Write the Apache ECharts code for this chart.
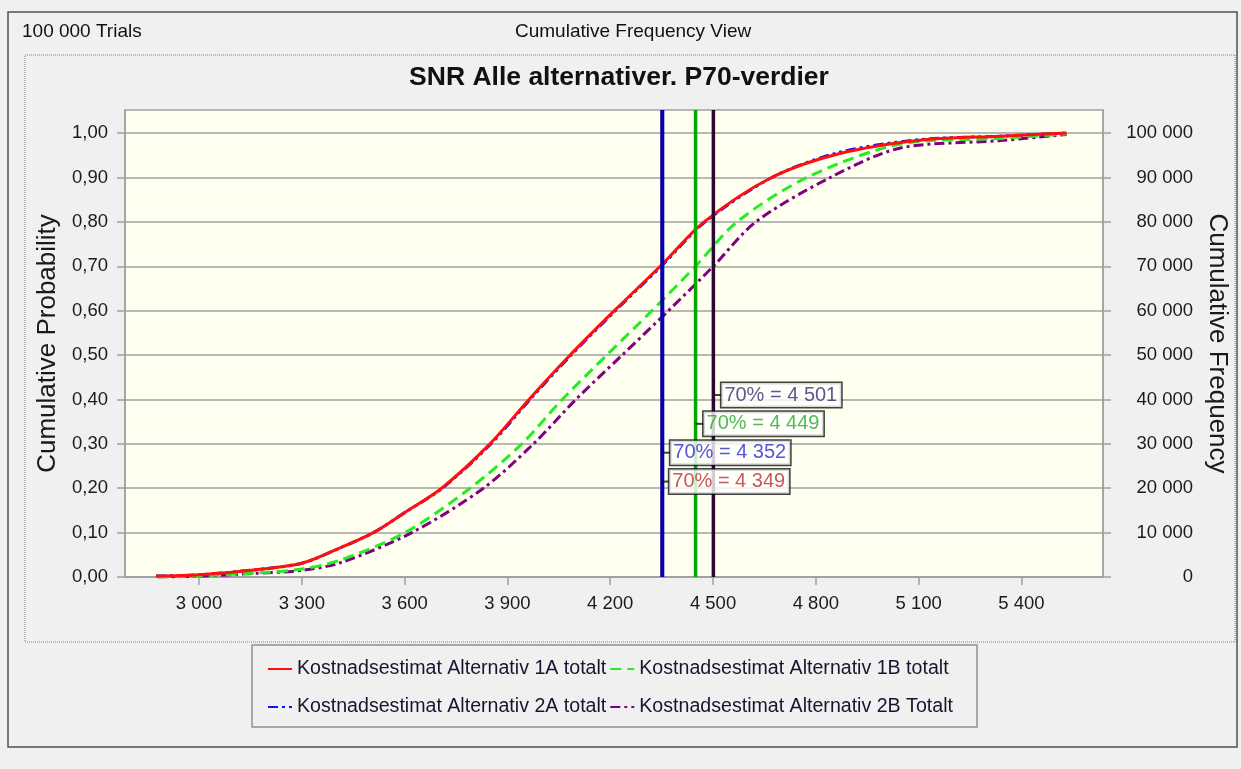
<!DOCTYPE html>
<html>
<head>
<meta charset="utf-8">
<script src="https://cdn.jsdelivr.net/npm/echarts@6/dist/echarts.min.js"></script>
<style>
  html, body { margin: 0; padding: 0; background: #f0f0f0; }
  #chart { width: 1241px; height: 769px; }
</style>
</head>
<body>
<div id="chart"></div>
<script>
// tick labels
const xTicks = [3000, 3300, 3600, 3900, 4200, 4500, 4800, 5100, 5400];
const probTicks = [0, 0.1, 0.2, 0.3, 0.4, 0.5, 0.6, 0.7, 0.8, 0.9, 1.0];
const freqTicks = [0, 10000, 20000, 30000, 40000, 50000, 60000, 70000, 80000, 90000, 100000];

// series names
const names = [
  'Kostnadsestimat Alternativ 1A totalt',
  'Kostnadsestimat Alternativ 1B totalt',
  'Kostnadsestimat Alternativ 2A totalt',
  'Kostnadsestimat Alternativ 2B Totalt'
];

// cumulative curves: cost value -> cumulative probability
const x1A = [2875, 3000, 3160, 3300, 3410, 3509, 3600, 3708, 3849, 3963, 4083, 4212, 4346, 4474, 4671, 4870, 5104, 5338, 5532];
const p1A = [0.002, 0.005, 0.016, 0.031, 0.065, 0.10, 0.145, 0.20, 0.30, 0.40, 0.50, 0.60, 0.70, 0.80, 0.90, 0.954, 0.984, 0.993, 1.0];

const x2A = [2875, 3000, 3160, 3300, 3410, 3509, 3600, 3710, 3852, 3966, 4086, 4215, 4349, 4477, 4672, 4866, 5100, 5338, 5532];
const p2A = [0.002, 0.005, 0.016, 0.031, 0.065, 0.10, 0.145, 0.20, 0.30, 0.40, 0.50, 0.60, 0.70, 0.80, 0.90, 0.956, 0.985, 0.993, 1.0];

const x1B = [2880, 3000, 3160, 3300, 3412, 3601, 3791, 3942, 4060, 4190, 4322, 4449, 4570, 4774, 5045, 5338, 5532];
const p1B = [0.0, 0.003, 0.009, 0.018, 0.038, 0.10, 0.20, 0.30, 0.40, 0.50, 0.60, 0.70, 0.80, 0.90, 0.975, 0.988, 0.998];

const x2B = [2880, 3000, 3160, 3300, 3412, 3621, 3830, 3976, 4100, 4235, 4370, 4501, 4625, 4842, 5045, 5338, 5532];
const p2B = [0.0, 0.002, 0.008, 0.015, 0.032, 0.10, 0.20, 0.30, 0.40, 0.50, 0.60, 0.70, 0.80, 0.90, 0.966, 0.983, 0.997];

// P70 markers
const p70Names = ['1A', '2A', '1B', '2B'];
const p70Values = [4349, 4352, 4449, 4501];
const p70LabelY = [0.215, 0.28, 0.345, 0.41];

const trials = 100000;

const fmtK = v => String(Math.round(v)).replace(/\B(?=(\d{3})+(?!\d))/g, ' ');
const fmtP = v => v.toFixed(2).replace('.', ',');
const zip = (xs, ys) => xs.map((x, i) => [x, ys[i]]);

const FONT = 'Liberation Sans, Arial, sans-serif';
const YMAX = 1.052;

const curveStyles = [
  { color: '#ff1010', type: 'solid', z: 5 },
  { color: '#22ee22', type: [11, 6], z: 4 },
  { color: '#1010ff', type: [10, 4, 3, 4, 3, 4], z: 3 },
  { color: '#800080', type: [10, 4, 3, 4], z: 3 }
];
const curveData = [zip(x1A, p1A), zip(x1B, p1B), zip(x2A, p2A), zip(x2B, p2B)];

const vlineStyles = [
  { color: '#c84040', width: 1.5 },
  { color: '#0000b0', width: 4 },
  { color: '#00a800', width: 3.5 },
  { color: '#2a0833', width: 3.5 }
];
const labelColors = ['#b8302a', '#2a2ad0', '#2aa82a', '#3a2a70'];

const series = [];
names.forEach((n, i) => {
  series.push({
    name: n,
    type: 'line',
    data: curveData[i],
    symbol: 'none',
    smooth: 0.3,
    z: curveStyles[i].z,
    lineStyle: { color: curveStyles[i].color, width: 3, type: curveStyles[i].type },
    itemStyle: { color: curveStyles[i].color }
  });
});
p70Values.forEach((v, i) => {
  series.push({
    name: 'p70-' + p70Names[i],
    type: 'line',
    data: [[v, 0], [v, YMAX]],
    symbol: 'none',
    z: 10,
    silent: true,
    lineStyle: { color: vlineStyles[i].color, width: vlineStyles[i].width }
  });
});
p70Values.forEach((v, i) => {
  series.push({
    name: 'lbl-' + p70Names[i],
    type: 'scatter',
    data: [[v, p70LabelY[i]]],
    symbol: 'rect',
    symbolSize: [8, 2],
    symbolOffset: [4, 0],
    z: 12,
    itemStyle: { color: '#111' },
    label: {
      show: true,
      position: 'right',
      distance: 0,
      formatter: () => '70% = ' + fmtK(v),
      color: labelColors[i],
      fontFamily: FONT,
      fontSize: 20,
      lineHeight: 21,
      backgroundColor: '#fff',
      borderColor: '#111',
      borderWidth: 1.5,
      padding: [2, 4, 1, 3]
    }
  });
});

const legendBase = {
  orient: 'horizontal',
  itemWidth: 24,
  itemHeight: 14,
  itemGap: 3,
  itemStyle: { opacity: 0 },
  textStyle: { fontFamily: FONT, fontSize: 19.6, color: '#151530' }
};

const option = {
  animation: false,
  backgroundColor: '#f0f0f0',
  title: {
    text: 'SNR Alle alternativer. P70-verdier',
    left: 614,
    textAlign: 'center',
    top: 59,
    textStyle: { fontFamily: FONT, fontSize: 26.5, fontWeight: 'bold', color: '#111' }
  },
  legend: [
    Object.assign({}, legendBase, { left: 262, top: 654, data: [names[0], names[1]] }),
    Object.assign({}, legendBase, { left: 262, top: 692, data: [names[2], names[3]] })
  ],
  grid: {
    left: 125, right: 138, top: 110, bottom: 192,
    containLabel: false,
    outerBoundsMode: 'none',
    show: true,
    backgroundColor: '#fffff0',
    borderColor: '#a0a0a0',
    borderWidth: 1.5
  },
  xAxis: {
    type: 'value',
    min: 2784,
    max: 5638,
    axisLine: { show: true, lineStyle: { color: '#a0a0a0', width: 1.5 } },
    axisTick: { show: true, length: 8, customValues: xTicks, lineStyle: { color: '#a0a0a0', width: 1.5 } },
    axisLabel: { customValues: xTicks, formatter: v => fmtK(v), margin: 17, color: '#1a1a1a', fontFamily: FONT, fontSize: 18.5 },
    splitLine: { show: false }
  },
  yAxis: [
    {
      type: 'value',
      min: 0,
      max: YMAX,
      interval: 0.1,
      name: 'Cumulative Probability',
      nameLocation: 'middle',
      nameGap: 64,
      nameTextStyle: { fontFamily: FONT, fontSize: 26, color: '#1a1a1a' },
      axisLine: { show: true, lineStyle: { color: '#a0a0a0', width: 1.5 } },
      axisTick: { show: true, length: 8, customValues: probTicks, lineStyle: { color: '#a0a0a0', width: 1.5 } },
      axisLabel: { customValues: probTicks, formatter: v => fmtP(v), margin: 17, color: '#1a1a1a', fontFamily: FONT, fontSize: 18.5 },
      splitLine: { show: true, lineStyle: { color: '#a0a0a0', width: 1.5 } }
    },
    {
      type: 'value',
      position: 'right',
      min: 0,
      max: YMAX * trials,
      interval: 10000,
      name: 'Cumulative Frequency',
      nameLocation: 'middle',
      nameRotate: -90,
      nameGap: 97,
      nameTextStyle: { fontFamily: FONT, fontSize: 26, color: '#1a1a1a' },
      axisLine: { show: true, lineStyle: { color: '#a0a0a0', width: 1.5 } },
      axisTick: { show: true, length: 8, customValues: freqTicks, lineStyle: { color: '#a0a0a0', width: 1.5 } },
      axisLabel: { customValues: freqTicks, formatter: v => fmtK(v), margin: 90, align: 'right', color: '#1a1a1a', fontFamily: FONT, fontSize: 18.5 },
      splitLine: { show: false }
    }
  ],
  graphic: [
    { type: 'rect', silent: true, shape: { x: 8, y: 12, width: 1229, height: 735 },
      style: { fill: 'none', stroke: '#505050', lineWidth: 1.5 } },
    { type: 'rect', silent: true, shape: { x: 25, y: 55, width: 1210, height: 587 },
      style: { fill: 'none', stroke: '#808080', lineWidth: 1, lineDash: [1, 1] } },
    { type: 'rect', silent: true, shape: { x: 252, y: 645, width: 725, height: 82 },
      style: { fill: 'none', stroke: '#909090', lineWidth: 1.5 } },
    { type: 'text', left: 22, top: 22,
      style: { text: '100 000 Trials', fontFamily: FONT, fontSize: 19, fill: '#111' } },
    { type: 'text', left: 515, top: 22,
      style: { text: 'Cumulative Frequency View', fontFamily: FONT, fontSize: 19, fill: '#111' } }
  ],
  series: series
};

const chart = echarts.init(document.getElementById('chart'));
chart.setOption(option);
</script>
</body>
</html>
